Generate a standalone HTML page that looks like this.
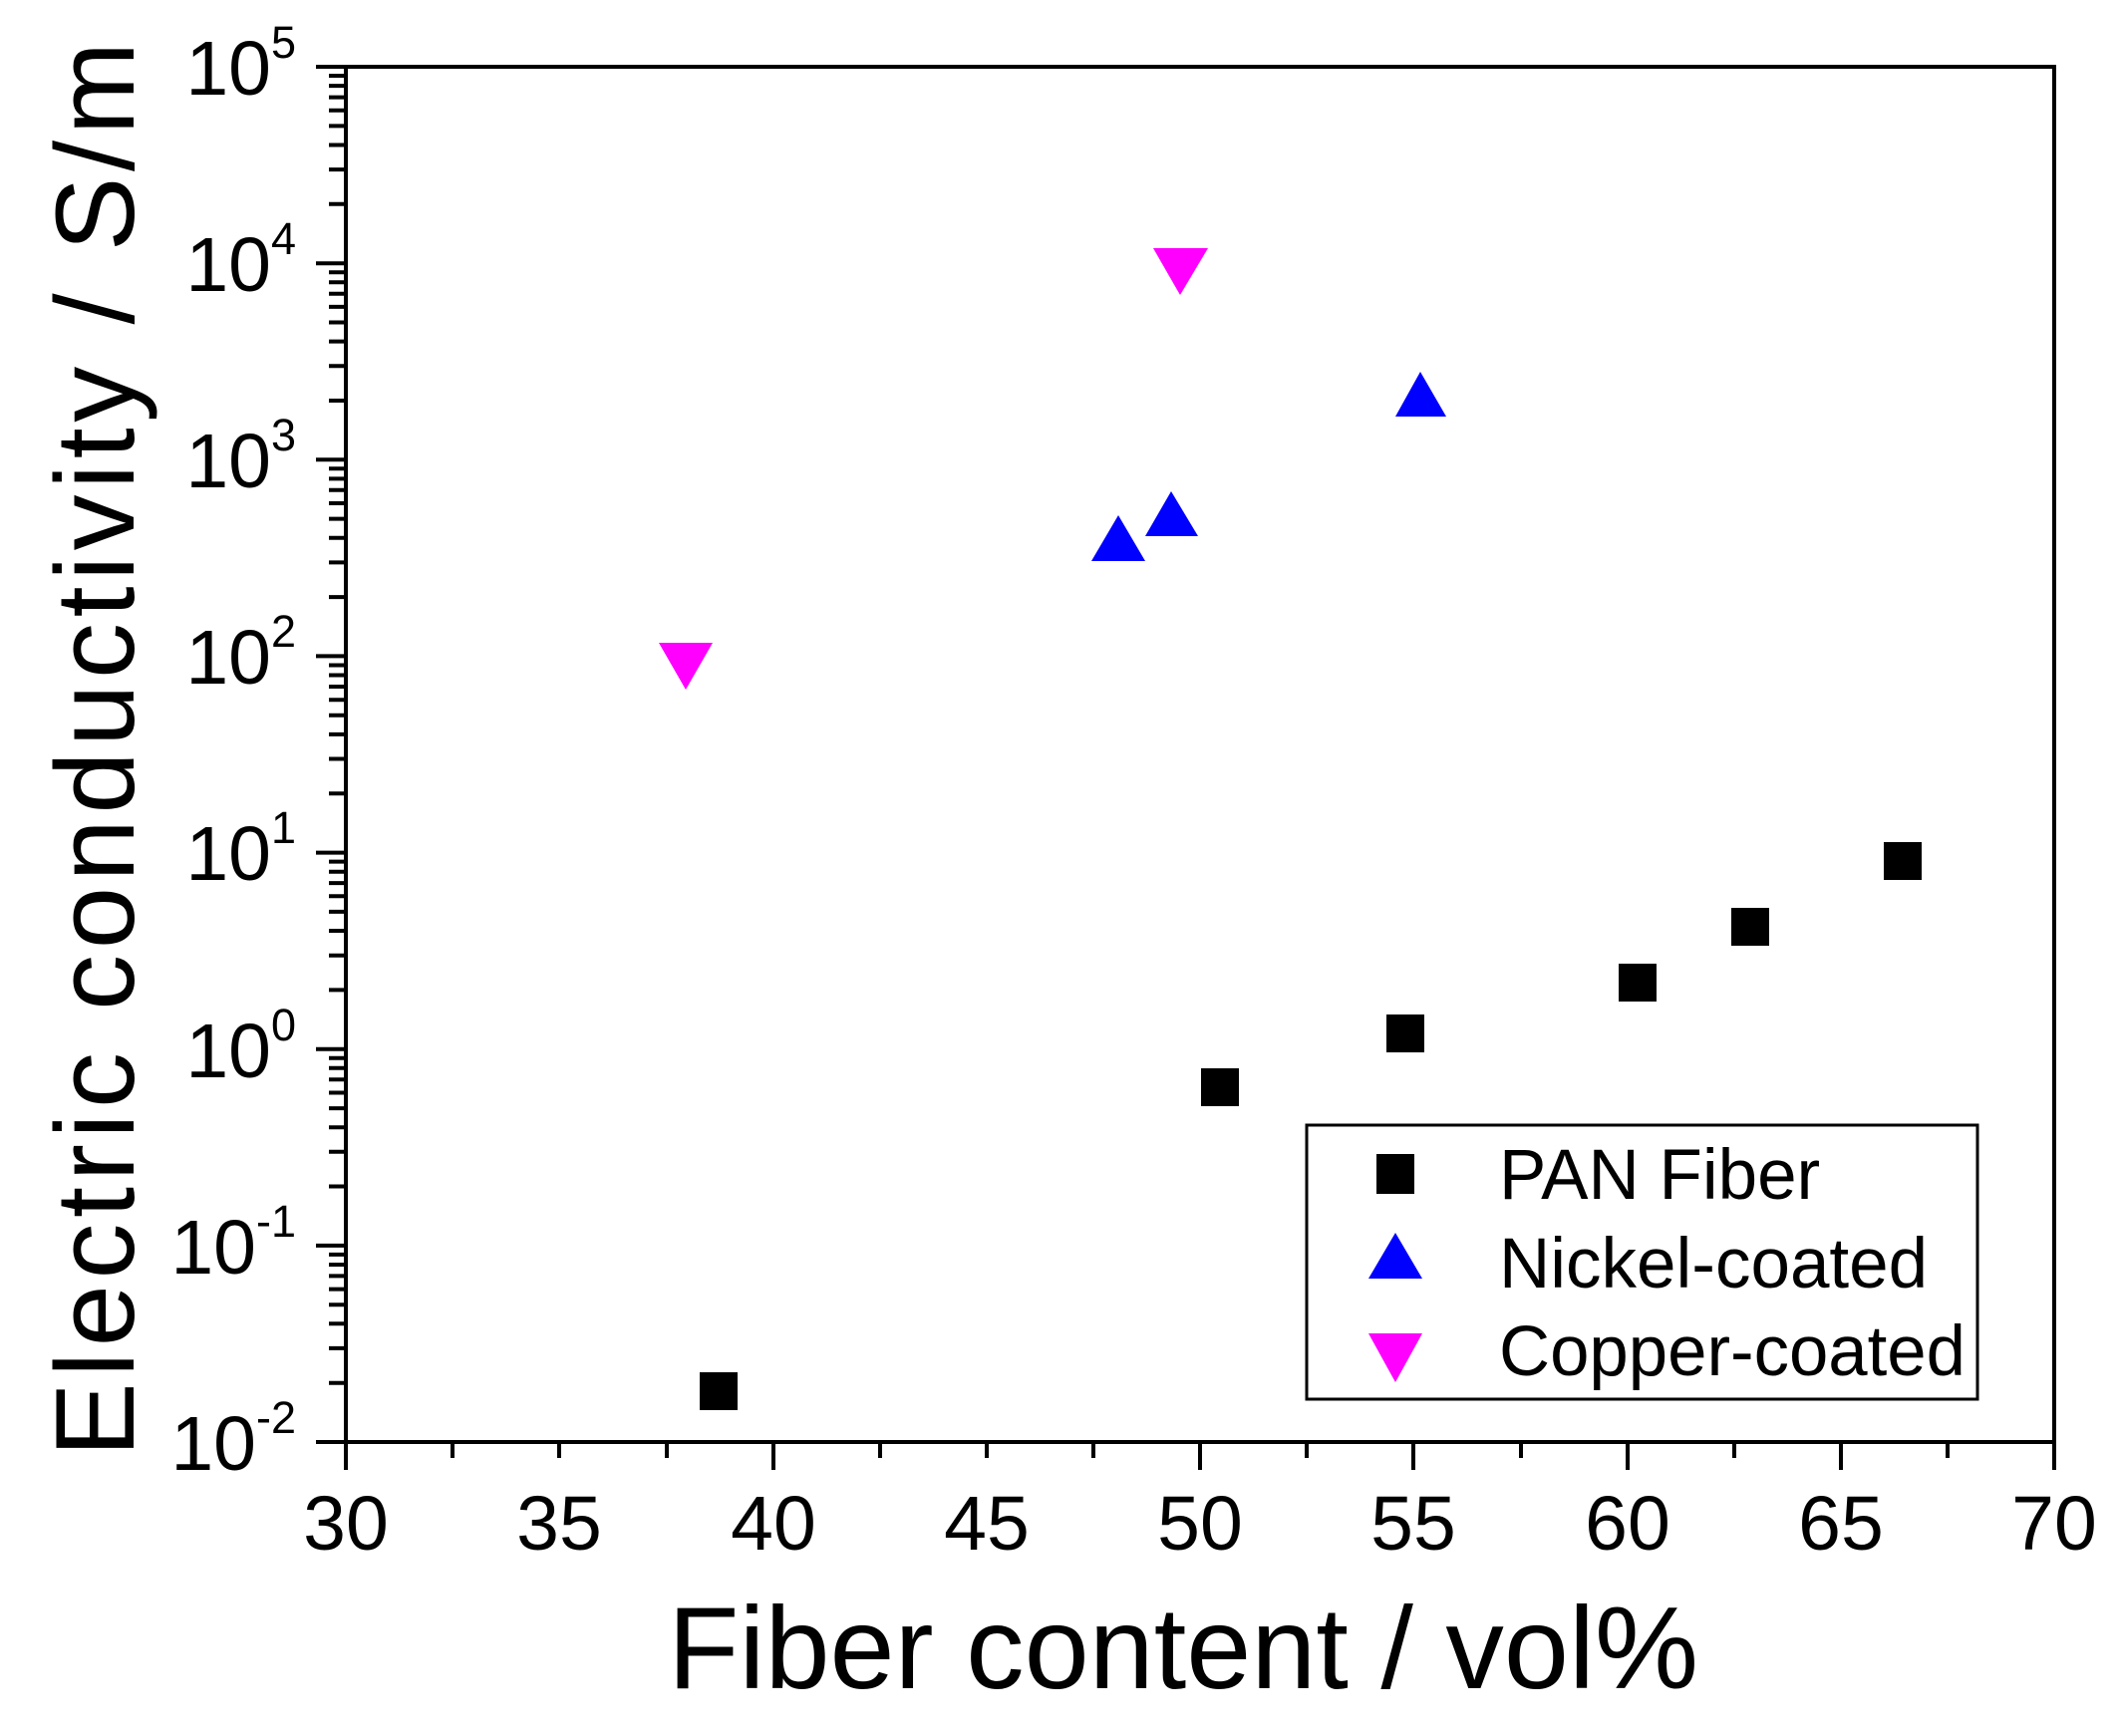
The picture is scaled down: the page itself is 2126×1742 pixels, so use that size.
<!DOCTYPE html>
<html><head><meta charset="utf-8"><style>html,body{margin:0;padding:0;background:#fff}svg{display:block}</style></head>
<body>
<svg width="2126" height="1742" viewBox="0 0 2126 1742" xmlns="http://www.w3.org/2000/svg" font-family="Liberation Sans, Arial, sans-serif">
<rect width="2126" height="1742" fill="#fff"/>
<g stroke="#000" stroke-width="4" fill="none">
<rect x="347" y="67" width="1714" height="1380"/>
<path d="M347,1447v28 M561,1447v16 M776,1447v28 M990,1447v16 M1204,1447v28 M1418,1447v28 M1633,1447v28 M1847,1447v28 M2061,1447v28 M454,1447v16 M669,1447v16 M883,1447v16 M1097,1447v16 M1311,1447v16 M1526,1447v16 M1740,1447v16 M1954,1447v16"/>
</g>
<g stroke="#000" stroke-width="4" id="yt"></g>
<script>
(function(){var g=document.getElementById('yt');var d='';for(var k=0;k<7;k++){var y0=1447-k*197.14;d+='M317,'+y0.toFixed(1)+'h30 ';for(var m=2;m<10;m++){var y=y0-Math.log10(m)*197.14;d+='M330,'+y.toFixed(1)+'h17 ';}}d+='M317,67h30';var p=document.createElementNS('http://www.w3.org/2000/svg','path');p.setAttribute('d',d);g.appendChild(p);})();
</script>
<g font-size="77" fill="#000" text-anchor="end">
<text x="297" y="95">10<tspan font-size="45" dy="-37">5</tspan></text>
<text x="297" y="292">10<tspan font-size="45" dy="-37">4</tspan></text>
<text x="297" y="489">10<tspan font-size="45" dy="-37">3</tspan></text>
<text x="297" y="686">10<tspan font-size="45" dy="-37">2</tspan></text>
<text x="297" y="883">10<tspan font-size="45" dy="-37">1</tspan></text>
<text x="297" y="1081">10<tspan font-size="45" dy="-37">0</tspan></text>
<text x="297" y="1278">10<tspan font-size="45" dy="-37">-1</tspan></text>
<text x="297" y="1475">10<tspan font-size="45" dy="-37">-2</tspan></text>
</g>
<g font-size="77" fill="#000" text-anchor="middle">
<text x="347" y="1555">30</text><text x="561" y="1555">35</text><text x="776" y="1555">40</text><text x="990" y="1555">45</text><text x="1204" y="1555">50</text><text x="1418" y="1555">55</text><text x="1633" y="1555">60</text><text x="1847" y="1555">65</text><text x="2061" y="1555">70</text>
</g>
<text x="1187" y="1694" font-size="117" text-anchor="middle">Fiber content / vol%</text>
<text transform="translate(134,752) rotate(-90)" font-size="112" text-anchor="middle" textLength="1420" lengthAdjust="spacing">Electric conductivity  /  S/m</text>
<g fill="#000">
<rect x="702" y="1377" width="38" height="38"/><rect x="1205" y="1072" width="38" height="38"/><rect x="1391" y="1018" width="38" height="38"/><rect x="1624" y="967" width="38" height="38"/><rect x="1737" y="911" width="38" height="38"/><rect x="1890" y="845" width="38" height="38"/>
</g>
<g fill="#0000ff">
<polygon points="1095,563 1149,563 1122,517"/><polygon points="1149,538 1202,538 1175,493"/><polygon points="1400,418 1451,418 1425,373"/>
</g>
<g fill="#ff00ff">
<polygon points="1157,249 1212,249 1184,296"/><polygon points="661,645 715,645 688,692"/>
</g>
<rect x="1311" y="1129" width="673" height="275" fill="#fff" stroke="#000" stroke-width="3"/>
<rect x="1381" y="1158" width="38" height="40" fill="#000"/>
<polygon points="1373,1283 1427,1283 1400,1237" fill="#0000ff"/>
<polygon points="1373,1338 1427,1338 1400,1387" fill="#ff00ff"/>
<g font-size="71" fill="#000">
<text x="1504" y="1203">PAN Fiber</text>
<text x="1504" y="1292">Nickel-coated</text>
<text x="1504" y="1380" textLength="468" lengthAdjust="spacingAndGlyphs">Copper-coated</text>
</g>
</svg>
</body></html>
